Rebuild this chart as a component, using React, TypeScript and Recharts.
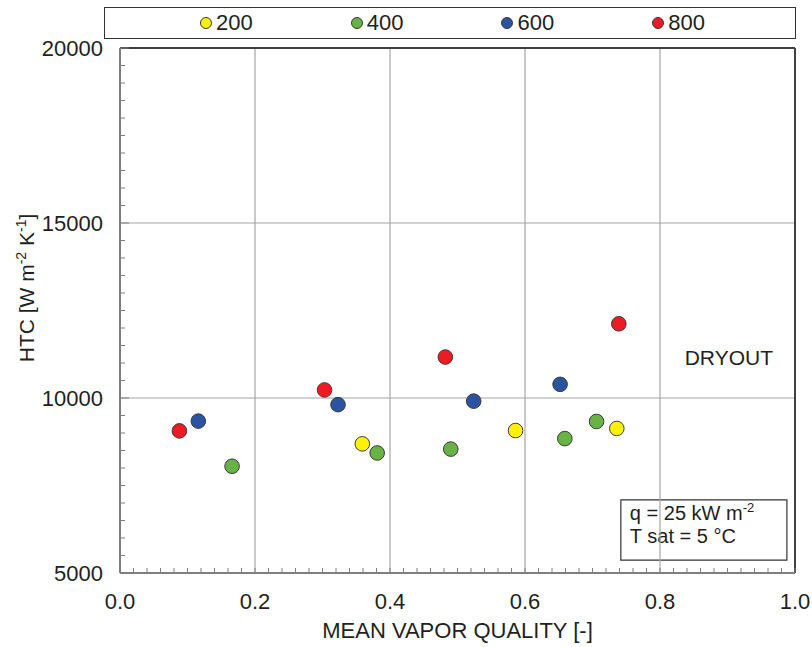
import {
  Legend,
  ReferenceArea,
  ReferenceDot,
  ReferenceLine,
  Scatter,
  ScatterChart,
  XAxis,
  YAxis,
} from "recharts";

type Point = { x: number; y: number };

const FONT = '"Liberation Sans", Arial, Helvetica, sans-serif';
const INK = "#231f20";

// mass flux series (kg m-2 s-1), vapor quality vs HTC
const g200: Point[] = [
  { x: 0.359, y: 8690 },
  { x: 0.586, y: 9070 },
  { x: 0.736, y: 9130 },
];
const g400: Point[] = [
  { x: 0.166, y: 8050 },
  { x: 0.381, y: 8430 },
  { x: 0.49, y: 8540 },
  { x: 0.659, y: 8840 },
  { x: 0.706, y: 9330 },
];
const g600: Point[] = [
  { x: 0.116, y: 9340 },
  { x: 0.323, y: 9810 },
  { x: 0.524, y: 9910 },
  { x: 0.652, y: 10390 },
];
const g800: Point[] = [
  { x: 0.088, y: 9060 },
  { x: 0.303, y: 10230 },
  { x: 0.482, y: 11170 },
  { x: 0.739, y: 12120 },
];

const series = [
  { name: "200", data: g200, color: "#fff200" },
  { name: "400", data: g400, color: "#67b346" },
  { name: "600", data: g600, color: "#2a53a2" },
  { name: "800", data: g800, color: "#ed1c24" },
];

const xMajor = [0, 0.2, 0.4, 0.6, 0.8, 1.0];
const yMajor = [5000, 10000, 15000, 20000];
const xGrid = [0.2, 0.4, 0.6, 0.8];
const yGrid = [10000, 15000];
const xMinorTicks = Array.from({ length: 51 }, (_, i) => Math.round(i * 2) / 100);
const yMinorTicks = Array.from({ length: 31 }, (_, i) => 5000 + i * 500);

const isMajor = (v: number, list: number[]) => list.some((m) => Math.abs(m - v) < 1e-6);

function XTick(props: any) {
  const { x, y, payload } = props;
  const v = payload.value as number;
  const major = isMajor(v, xMajor);
  return (
    <g>
      <line x1={x} x2={x} y1={y} y2={y - 5} stroke="#7f7f7f" strokeWidth={1} />
      {major && (
        <text x={x} y={y + 36} textAnchor="middle" fontSize={22} fill={INK} fontFamily={FONT}>
          {v.toFixed(1)}
        </text>
      )}
    </g>
  );
}

function YTick(props: any) {
  const { x, y, payload } = props;
  const v = payload.value as number;
  const major = isMajor(v, yMajor);
  return (
    <g>
      <line x1={x} x2={x + (major ? 9 : 5)} y1={y} y2={y} stroke="#7f7f7f" strokeWidth={1} />
      {major && (
        <text x={x - 17} y={y + 8} textAnchor="end" fontSize={22} fill={INK} fontFamily={FONT}>
          {v}
        </text>
      )}
    </g>
  );
}

function YTitle() {
  return (
    <text
      x={34}
      y={288}
      transform="rotate(-90, 34, 288)"
      textAnchor="middle"
      fontSize={21}
      fill={INK}
      fontFamily={FONT}
    >
      HTC [W m
      <tspan dy={-8} fontSize={14}>-2</tspan>
      <tspan dy={8}> K</tspan>
      <tspan dy={-8} fontSize={14}>-1</tspan>
      <tspan dy={8}>]</tspan>
    </text>
  );
}

function LegendBox() {
  return (
    <div
      style={{
        boxSizing: "border-box",
        width: 692,
        height: 32,
        border: "1.5px solid #333",
        background: "#fff",
        display: "flex",
        alignItems: "center",
        paddingLeft: 95,
        gap: 98,
        fontFamily: FONT,
        fontSize: 22,
        color: INK,
      }}
    >
      {series.map((s) => (
        <div key={s.name} style={{ display: "flex", alignItems: "center", gap: 4 }}>
          <span
            style={{
              width: 12,
              height: 12,
              borderRadius: "50%",
              background: s.color,
              border: "1px solid #3a3a3a",
              boxSizing: "border-box",
              display: "inline-block",
            }}
          />
          <span style={{ lineHeight: "22px" }}>{s.name}</span>
        </div>
      ))}
    </div>
  );
}

function Dot(props: any) {
  const { cx, cy, fill } = props;
  return <circle cx={cx} cy={cy} r={7.3} fill={fill} stroke="#3a3a3a" strokeWidth={1} />;
}

export default function App() {
  return (
    <div style={{ position: "absolute", left: 0, top: 0, width: 812, height: 647, background: "#fff" }}>
      <ScatterChart width={812} height={647} margin={{ top: 48, right: 17, bottom: 0, left: 0 }}>
        <XAxis
          type="number"
          dataKey="x"
          domain={[0, 1]}
          ticks={xMinorTicks}
          interval={0}
          tickSize={0}
          tickMargin={0}
          tick={<XTick />}
          height={74}
          axisLine={{ stroke: "#7f7f7f", strokeWidth: 2 }}
          tickLine={false}
          allowDataOverflow
          label={{
            value: "MEAN VAPOR QUALITY [-]",
            position: "insideBottom",
            offset: 9,
            fontSize: 22,
            fill: INK,
            fontFamily: FONT,
          }}
        />
        <YAxis
          type="number"
          dataKey="y"
          domain={[5000, 20000]}
          ticks={yMinorTicks}
          interval={0}
          tickSize={0}
          tickMargin={0}
          tick={<YTick />}
          width={120}
          axisLine={{ stroke: "#7f7f7f", strokeWidth: 2 }}
          tickLine={false}
          allowDataOverflow
          label={{ content: () => <YTitle /> }}
        />
        {xGrid.map((v) => (
          <ReferenceLine key={`gx${v}`} x={v} stroke="#a6a6a6" strokeWidth={1.2} />
        ))}
        {yGrid.map((v) => (
          <ReferenceLine key={`gy${v}`} y={v} stroke="#a6a6a6" strokeWidth={1.2} />
        ))}
        <ReferenceLine y={20000} stroke="#404040" strokeWidth={2} />
        <ReferenceLine x={1} stroke="#404040" strokeWidth={2} />
        <ReferenceArea
          x1={0.742}
          x2={0.988}
          y1={5370}
          y2={7090}
          fill="#fff"
          fillOpacity={1}
          stroke="#333"
          strokeWidth={1.2}
          label={{
            content: (p: any) => {
              const vb = p.viewBox;
              return (
                <g fontSize={20} fill={INK} fontFamily={FONT}>
                  <text x={vb.x + 9} y={vb.y + 20}>
                    q = 25 kW m
                    <tspan dy={-8} fontSize={13}>-2</tspan>
                  </text>
                  <text x={vb.x + 9} y={vb.y + 43}>
                    T sat = 5 °C
                  </text>
                </g>
              );
            },
          }}
        />
        <ReferenceDot
          x={0.902}
          y={11170}
          r={0}
          fill="none"
          stroke="none"
          label={{
            content: (p: any) => {
              const vb = p.viewBox;
              const cx = vb.x + (vb.width || 0) / 2;
              const cy = vb.y + (vb.height || 0) / 2;
              return (
                <text x={cx} y={cy + 8} textAnchor="middle" fontSize={21} fill={INK} fontFamily={FONT}>
                  DRYOUT
                </text>
              );
            },
          }}
        />
        <Legend
          layout="horizontal"
          verticalAlign="middle"
          align="center"
          content={() => <LegendBox />}
          wrapperStyle={{ top: 7, left: 104, width: 692, height: 32, bottom: "auto", right: "auto" }}
        />
        {series.map((s) => (
          <Scatter
            key={s.name}
            name={s.name}
            data={s.data}
            fill={s.color}
            shape={<Dot />}
            isAnimationActive={false}
          />
        ))}
      </ScatterChart>
    </div>
  );
}
